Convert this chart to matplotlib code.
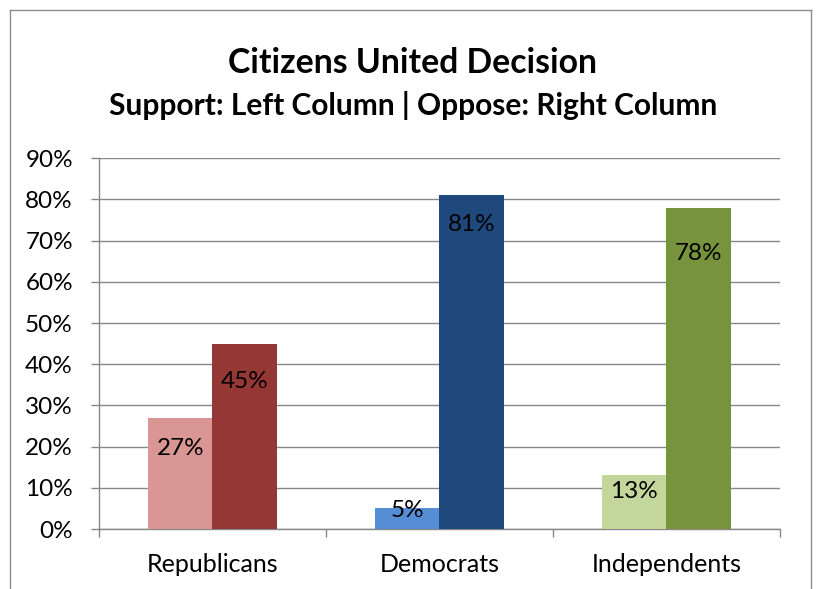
import numpy as np
import matplotlib.pyplot as plt
from matplotlib.lines import Line2D

plt.rcParams['font.family'] = ['Lato', 'DejaVu Sans']

# data
groups = ["Republicans", "Democrats", "Independents"]
support = [27, 5, 13]
oppose = [45, 81, 78]

support_colors = ["#D99694", "#558ED5", "#C3D69B"]
oppose_colors = ["#953735", "#1F497D", "#77933C"]

# labels were dragged around a bit in the original, drop below the bar top (points)
support_drop = [6.9, 0.1, 3.5]
oppose_drop = [8.8, 6.7, 10.7]

grid_col = "#878787"
fs = 17.5

fig = plt.figure(figsize=(8.2, 5.89), dpi=100)
W, H = 820, 589
ax = fig.add_axes([99/W, (H-529)/H, (780-99)/W, (529-158.3)/H])

x = np.arange(len(groups))
w = 0.284
ax.bar(x - w/2, support, w, color=support_colors, zorder=3)
ax.bar(x + w/2, oppose, w, color=oppose_colors, zorder=3)

for i in range(len(groups)):
    ax.text(x[i] - w/2, support[i] - support_drop[i], str(support[i]) + "%",
            ha="center", va="center_baseline", fontsize=fs, zorder=4)
    ax.text(x[i] + w/2, oppose[i] - oppose_drop[i], str(oppose[i]) + "%",
            ha="center", va="center_baseline", fontsize=fs, zorder=4)

ax.set_xlim(-0.5, 2.5)
ax.set_ylim(0, 90)
ax.set_yticks(np.arange(0, 91, 10))
ax.set_yticklabels([str(v) + "%" for v in range(0, 91, 10)])
ax.yaxis.grid(True, color=grid_col, lw=1.0, zorder=0)

# category boundaries get the tick marks, names sit in the middle
ax.set_xticks([-0.5, 0.5, 1.5, 2.5])
ax.set_xticklabels([])
ax.set_xticks(x, minor=True)
ax.set_xticklabels(groups, minor=True)
ax.tick_params(axis="x", which="minor", length=0, pad=17, labelsize=18)
ax.tick_params(axis="x", which="major", length=5.8, width=1.0, color=grid_col)
ax.tick_params(axis="y", length=5.8, width=1.0, color=grid_col, pad=13, labelsize=fs)

for s in ["top", "right"]:
    ax.spines[s].set_visible(False)
for s in ["left", "bottom"]:
    ax.spines[s].set_color(grid_col)
    ax.spines[s].set_linewidth(1.0)

fig.text(413/W, (H-73)/H, "Citizens United Decision", ha="center", va="baseline",
         fontsize=24.3, fontweight="bold")
fig.text(413/W, (H-115.5)/H, "Support: Left Column | Oppose: Right Column", ha="center",
         va="baseline", fontsize=21.5, fontweight="bold")

# chart frame, bottom edge is cut off in the original
fx0, fx1, fy = 10/W, 811/W, (H-10)/H
for xs, ys in [([fx0, fx1], [fy, fy]), ([fx0, fx0], [fy, 0]), ([fx1, fx1], [fy, 0])]:
    fig.add_artist(Line2D(xs, ys, transform=fig.transFigure, color="#8C8C8C", lw=1.0))

fig.savefig("out.png", dpi=100)
